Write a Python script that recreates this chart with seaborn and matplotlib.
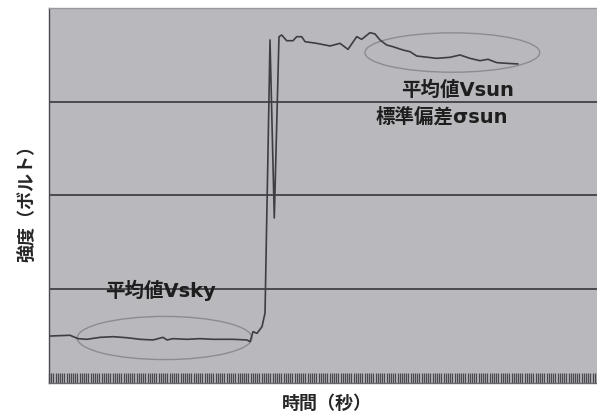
import numpy as np
import pandas as pd
import matplotlib
matplotlib.use("Agg")
import matplotlib.pyplot as plt
from matplotlib.patches import Ellipse
import seaborn as sns

# ---- data (time in arbitrary seconds, intensity in volts) ----
time_s = [0.18, 3.83, 5.29, 6.93, 9.31, 11.68, 14.23, 16.61, 18.98, 20.80, 21.53, 22.63,
          25.18, 27.55, 29.93, 33.58, 36.13, 36.68, 37.23, 37.96, 38.87, 39.42, 39.73,
          39.96, 40.33, 41.11, 41.97, 42.46, 43.38, 44.53, 45.20, 46.11, 46.72, 48.85,
          51.28, 53.10, 54.56, 56.15, 57.06, 58.58, 59.49, 60.40, 61.62, 62.77, 64.60,
          65.88, 67.10, 68.25, 70.75, 73.18, 75.00, 76.82, 78.65, 80.11, 81.70, 83.52, 85.58]
volts = [0.501, 0.509, 0.473, 0.466, 0.487, 0.494, 0.483, 0.466, 0.459, 0.487, 0.459, 0.473,
         0.466, 0.473, 0.466, 0.466, 0.459, 0.441, 0.547, 0.530, 0.601, 0.747, 1.739,
         2.453, 3.659, 1.760, 3.694, 3.712, 3.651, 3.651, 3.694, 3.694, 3.641, 3.623,
         3.595, 3.623, 3.559, 3.694, 3.666, 3.737, 3.723, 3.659, 3.605, 3.587, 3.552,
         3.534, 3.488, 3.480, 3.463, 3.474, 3.499, 3.463, 3.438, 3.453, 3.417, 3.410, 3.403]

grid_levels = [1, 2, 3]

# ellipses marking the averaging windows: (center_t, center_v, width_t, height_v)
sky_window = (21.1, 0.480, 31.9, 0.46)
sun_window = (73.6, 3.525, 31.9, 0.42)

labels_sky = "平均値Vsky"
labels_sun_mean = "平均値Vsun"
labels_sun_std = "標準偏差σsun"
xlabel = "時間（秒）"
ylabel = "強度（ボルト）"

df = pd.DataFrame({"time": time_s, "volts": volts})

sns.set_style("white")
plt.rcParams['font.family'] = ['DejaVu Sans', 'Noto Sans CJK JP']

fig = plt.figure(figsize=(5.97, 4.15), dpi=100)
ax = fig.add_axes([49/597, 32/415, 548/597, 375/415])
ax.set_facecolor("#b9b8bd")

sns.lineplot(data=df, x="time", y="volts", ax=ax, color="#3e3e42", linewidth=1.2,
             sort=False, estimator=None)

for lvl in grid_levels:
    ax.axhline(lvl, color="#38383c", linewidth=1.2, zorder=1)

for (cx, cy, w, h) in (sky_window, sun_window):
    ax.add_patch(Ellipse((cx, cy), w, h, fill=False, edgecolor="#8c8c90", linewidth=1.0))

ax.set_xlim(0, 100)
ax.set_ylim(0, 4.0)

tfont = dict(fontsize=14, fontweight='bold', color="#1e1e1e",
             family=['DejaVu Sans', 'Noto Sans CJK JP'])
ax.text(74.5, 3.125, labels_sun_mean, ha='center', va='center', **tfont)
ax.text(71.7, 2.837, labels_sun_std, ha='center', va='center', **tfont)
ax.text(20.3, 0.99, labels_sky, ha='center', va='center', **tfont)

# dense inward ticks along the time axis
ax.set_xticks(np.arange(0, 100.01, 0.4))
ax.set_xticklabels([])
ax.tick_params(axis='x', direction='in', length=7.5, width=0.9, color="#4a4a4e", bottom=True)
ax.set_yticks([])

ax.set_xlabel(xlabel, fontsize=13, fontweight='bold', family=['Noto Sans CJK JP'])
ax.set_ylabel(ylabel, fontsize=13, fontweight='bold', family=['Noto Sans CJK JP'])
ax.xaxis.set_label_coords(0.507, -0.03)
ax.yaxis.set_label_coords(-0.024, 0.49)

for name, sp in ax.spines.items():
    sp.set_visible(True)
    sp.set_color("#6a6a6e")
    sp.set_linewidth(1.0)
ax.spines['left'].set_color("#4a4a4e")
ax.spines['top'].set_color("#9a9a9e")
ax.spines['right'].set_visible(False)

fig.savefig("out.png", dpi=100, facecolor="white")
